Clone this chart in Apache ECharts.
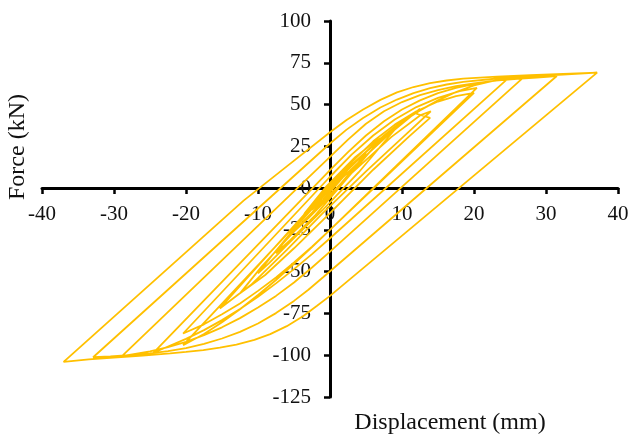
<!DOCTYPE html>
<html>
<head>
<meta charset="utf-8">
<title>Force - Displacement</title>
<script src="https://cdn.jsdelivr.net/npm/echarts@6/dist/echarts.min.js"></script>
<style>
  html, body { margin: 0; padding: 0; background: #fff; }
  #main { width: 632px; height: 441px; }
</style>
</head>
<body>
<div id="main"></div>
<script>
// axis ranges [min, max, interval]
var xRange = [-40, 40, 10];
var yRange = [-125, 100, 25];

// hysteresis branches, [displacement (mm), force (kN)], in loading order
var start = [[0, 0], [1.2, 5.5], [2.5, 10]];
var cycle1 = [[1, 2.5], [-1, -7], [-2.5, -13], [-1.5, -4.5], [0.5, 5], [3.5, 16], [5, 21]];
var cycle2 = [[3.5, 13], [0, -5], [-3, -18], [-5, -26], [-3.5, -15], [-0.5, 1], [3.5, 18.5], [6.3, 28], [7.5, 31]];
var cycle3 = [[5.5, 21.5], [2, 4], [-2, -16], [-5.5, -31], [-7.5, -39], [-5.5, -27], [-1, -3], [3.5, 16], [7.5, 31.5], [10, 40]];
var cycle4 = [[8, 30], [4, 9.5], [-1, -13], [-5.5, -32], [-8.5, -45], [-10, -51],
              [-8, -40], [-4.5, -22], [-0.5, -3], [4, 15.5], [8, 31.5], [11, 42], [12.5, 47.5], [12, 44.5], [13.9, 42]];
var cycle5 = [[11, 31], [6, 11], [0, -15], [-5, -36], [-9, -52], [-12.5, -63],
              [-9.5, -47], [-3.5, -19], [2.5, 7], [8.5, 30.5], [12.5, 43.5], [14, 46]];
var cycle6 = [[11, 34], [5, 10], [-1, -15], [-6, -37], [-11, -58], [-15.3, -72],
              [0, 1.4], [3, 15.5], [6, 28], [9, 38], [12, 46], [15, 51.8], [17.5, 55], [20, 57]];
var cycle7 = [[0, -25], [-2.5, -35], [-5, -44.5], [-7.5, -53.5], [-10, -61.5], [-12.5, -69], [-15, -75.5], [-17.5, -81.5], [-20.4, -87],
              [0, 6.8], [3, 20], [6, 31.5], [9, 41], [12, 48.5], [15, 54], [18, 58], [20.4, 60]];
var cycle8 = [[0, -25], [-2.5, -35.3], [-5, -45.3], [-7.5, -55], [-10, -64], [-12.5, -72.5], [-15, -80.3], [-17.5, -87.3], [-20.4, -94],
              [0, -0.2], [2.5, 11], [5, 21.5], [7.5, 31], [10, 39.5], [12.5, 46.5], [15, 52.5], [17.5, 57.5], [20, 61.5], [22.5, 64], [24.7, 65.5]];
var cycle9 = [[0, -30], [-2.5, -39.5], [-5, -48.5], [-7.5, -57], [-10, -65], [-12.5, -72.3], [-15, -79], [-17.5, -85], [-20, -90.2], [-22.5, -94.8], [-24.5, -98.5],
              [0, 10.7], [2.5, 21.5], [5, 31.5], [7.5, 40], [10, 47], [12.5, 52.5], [15, 56.8], [17.5, 60], [20, 62.3], [22.5, 64], [24, 64.8], [26.8, 66]];
var cycle10 = [[0, -38], [-2.5, -47.5], [-5, -56.5], [-7.5, -64.5], [-10, -71.5], [-12.5, -77.8], [-15, -83.3], [-17.5, -88], [-20, -92], [-22.5, -95.2], [-25, -97.7], [-28.9, -100.5],
               [0, 18.7], [2.5, 29], [5, 38.5], [7.5, 46], [10, 51.5], [12.5, 55.6], [15, 58.7], [17.5, 61], [20, 62.7], [23, 64.3], [26, 65.4], [28.7, 66.2], [31.5, 67.1]];
var cycle11 = [[-1, -53.5], [-3, -60.8], [-5, -67.5], [-7.5, -74.8], [-10, -81], [-12.5, -86], [-15, -90], [-17.5, -93.2], [-20, -95.7], [-22.5, -97.5], [-25, -98.9], [-28, -100], [-30.5, -100.7], [-32.9, -101.2],
               [0, 26.7], [2.3, 35], [4.6, 42], [7, 48.2], [9.3, 53], [11.6, 56.8], [13.9, 59.8], [16.2, 62], [18.5, 63.6], [23.2, 65.6], [27.8, 66.9], [32.4, 67.9], [37.1, 69.1]];
var cycle12 = [[0, -64.5], [-1.8, -70.4], [-3.7, -76.5], [-6, -82.6], [-8.3, -87.4], [-10.5, -90.8], [-13, -93.6], [-15.3, -95.5], [-17.6, -96.9], [-20, -98], [-22.2, -98.9], [-26, -100.2], [-30, -101.4], [-33.5, -102.5], [-37, -104],
               [-12, -7.5], [-6, 13], [0, 33.4], [2.3, 40.8], [4.6, 47], [7, 52.8], [9.3, 57.3], [11.6, 60.5], [13.9, 62.8], [16.2, 64.4], [18.5, 65.5], [23.2, 66.7], [27.8, 67.6], [32.4, 68.4], [37.1, 69.1]];

var curve = [].concat(start, cycle1, cycle2, cycle3, cycle4, cycle5, cycle6,
                      cycle7, cycle8, cycle9, cycle10, cycle11, cycle12);

var serif = '"Liberation Serif", "Times New Roman", serif';

// plot box, axes are moved onto the zero lines with offset
var box = {left: 42, right: 14, top: 21, bottom: 44};
var plotW = 632 - box.left - box.right;
var plotH = 441 - box.top - box.bottom;
var xZeroOffset = -plotW * (0 - xRange[0]) / (xRange[1] - xRange[0]);
var yZeroOffset = -plotH * (0 - yRange[0]) / (yRange[1] - yRange[0]);

var myChart = echarts.init(document.getElementById('main'));

var option = {
    animation: false,
    backgroundColor: '#fff',
    grid: {
        left: box.left,
        right: box.right,
        top: box.top,
        bottom: box.bottom,
        containLabel: false,
        outerBoundsMode: 'none'
    },
    xAxis: {
        type: 'value',
        position: 'bottom',
        offset: yZeroOffset,
        min: xRange[0],
        max: xRange[1],
        interval: xRange[2],
        axisLine: {onZero: false, lineStyle: {color: '#000', width: 3}},
        axisTick: {show: true, inside: false, length: 6, lineStyle: {color: '#000', width: 2.5}},
        axisLabel: {color: '#111', fontFamily: serif, fontSize: 21, margin: 16, showMinLabel: true, showMaxLabel: true},
        splitLine: {show: false}
    },
    yAxis: {
        type: 'value',
        position: 'left',
        offset: xZeroOffset,
        min: yRange[0],
        max: yRange[1],
        interval: yRange[2],
        axisLine: {onZero: false, lineStyle: {color: '#000', width: 3}},
        axisTick: {show: true, inside: false, length: 6, lineStyle: {color: '#000', width: 2.5}},
        axisLabel: {color: '#111', fontFamily: serif, fontSize: 21, margin: 19, showMinLabel: true, showMaxLabel: true},
        splitLine: {show: false}
    },
    graphic: [
        {
            type: 'text',
            x: 18,
            y: 147,
            rotation: Math.PI / 2,
            style: {
                text: 'Force (kN)',
                font: '24px ' + serif,
                fill: '#111',
                textAlign: 'center',
                textVerticalAlign: 'middle'
            }
        },
        {
            type: 'text',
            x: 450,
            y: 423,
            style: {
                text: 'Displacement (mm)',
                font: '24px ' + serif,
                fill: '#111',
                textAlign: 'center',
                textVerticalAlign: 'middle'
            }
        }
    ],
    series: [
        {
            type: 'line',
            data: curve,
            symbol: 'none',
            showSymbol: false,
            smooth: false,
            lineStyle: {color: '#FFC000', width: 1.8},
            itemStyle: {color: '#FFC000'}
        }
    ]
};

myChart.setOption(option);
</script>
</body>
</html>
